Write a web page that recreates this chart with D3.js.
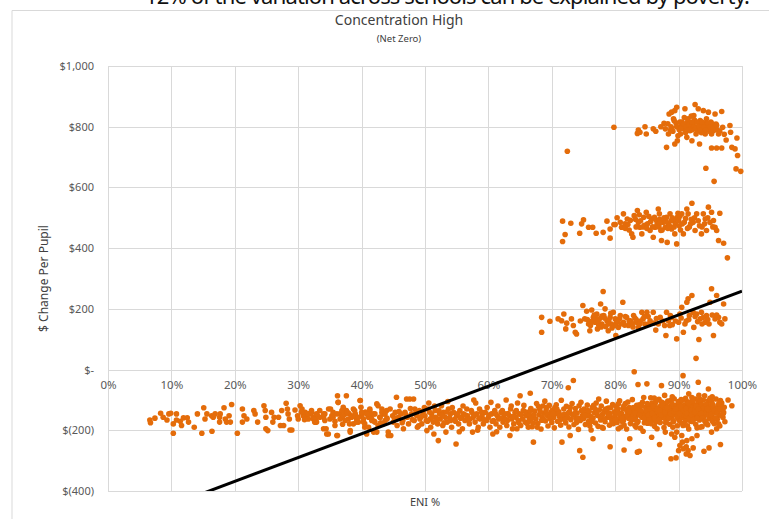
<!DOCTYPE html>
<html>
<head>
<meta charset="utf-8">
<script src="https://cdn.jsdelivr.net/npm/d3@7/dist/d3.min.js"></script>
<style>
  body { margin: 0; background: #fff; }
  text { font-family: "Noto Sans", sans-serif; }
</style>
</head>
<body>
<svg id="chart" width="769" height="519"></svg>
<script>
// axis ticks
const xTicks = [0, 10, 20, 30, 40, 50, 60, 70, 80, 90, 100];
const yTicks = [-400, -200, 0, 200, 400, 600, 800, 1000];

// [ENI %, $ change per pupil]
const lowBand = [
  [6.6,-166],[6.7,-175],[7.4,-160],[8.3,-144],[8.7,-157],[9.3,-166],[9.6,-146],[9.9,-144],[10.3,-179],[10.3,-210],
  [10.8,-146],[10.8,-166],[11.4,-170],[11.6,-184],[11.9,-159],[12.5,-159],[12.7,-173],[13.6,-190],[14.1,-146],[14.8,-210],
  [15.1,-126],[15.3,-163],[15.6,-146],[16.35,-152],[16.4,-203],[16.6,-157],[16.9,-146],[17.6,-157],[17.6,-173],[17.7,-146],
  [18.3,-126],[18.5,-163],[18.7,-173],[19.1,-152],[19.3,-173],[19.5,-115],[20.4,-210],[21.2,-130],[21.45,-152],[21.2,-173],
  [21.9,-163],[23.0,-135],[23.2,-146],[23.6,-173],[24.6,-119],[24.8,-135],[24.9,-157],[24.9,-195],[25.2,-201],[25.8,-141],
  [26.0,-173],[26.2,-157],[26.9,-157],[27.2,-184],[27.4,-135],[27.7,-184],[28.1,-111],[28.3,-130],[28.4,-146],[28.6,-163],
  [28.7,-199],[29.0,-199],[29.5,-133],[29.9,-152],[30.0,-163],[30.3,-119],[30.6,-130],[30.8,-152],[31.1,-141],[31.3,-155],
  [31.6,-163],[31.9,-146],[32.1,-141],[32.4,-157],[32.9,-173],
  [31.6,-146],[32.1,-135],[32.7,-173],[32.9,-157],[33.4,-135],[34.0,-157],[34.0,-195],[34.2,-146],[34.5,-212],[34.8,-130],
  [35.0,-163],[35.3,-152],[35.5,-141],[36.1,-217],[36.2,-86],[36.3,-108],[36.6,-146],[36.9,-157],[37.1,-124],[37.4,-146],
  [37.6,-135],[37.9,-163],[38.2,-201],[38.4,-152],[38.7,-179],[38.9,-135],[39.2,-163],[39.5,-173],[39.8,-102],[39.9,-124],
  [40.0,-152],[40.3,-173],[40.5,-190],[40.8,-212],[41.1,-157],[41.3,-135],[41.6,-168],[41.9,-206],[42.1,-146],[42.4,-113],
  [42.6,-184],[42.9,-157],[43.2,-130],[43.4,-146],[43.7,-168],[43.95,-135],[44.2,-217],
  [30.5,-140],[31.0,-165],[33.0,-150],[35.8,-170],[37.0,-180],[38.0,-145],[39.0,-155],[40.6,-140],[41.5,-150],[42.0,-170],
  [43.0,-175],[44.0,-160],
  [32.1,-141],[32.4,-163],[32.6,-173],[32.9,-146],[33.4,-157],[34.0,-146],[34.2,-168],[34.4,-195],[34.75,-212],[35.1,-130],
  [35.5,-157],[35.8,-184],[36.1,-146],[36.2,-217],[36.3,-108],[36.6,-163],[36.9,-135],[37.1,-152],[37.4,-168],[37.6,-86],
  [37.75,-141],[38.1,-179],[38.2,-206],[38.4,-157],[38.7,-130],[39.0,-146],[39.2,-173],[39.5,-157],[39.75,-102],[40.0,-141],
  [40.3,-163],[40.5,-179],[40.8,-146],[41.1,-190],[41.3,-130],[41.6,-163],[41.85,-146],[42.1,-173],[42.4,-206],[42.6,-119],
  [42.9,-157],[43.2,-141],[43.4,-179],[43.7,-146],[44.0,-163],[44.2,-206],[44.5,-130],[44.6,-217],[44.9,-152],[45.0,-173],
  [45.3,-141],[45.5,-91],[45.6,-184],[45.8,-157],[46.1,-119],[46.2,-146],[46.5,-168],[46.6,-195],[46.85,-141],[47.1,-97],
  [47.2,-157],[47.4,-179],[47.6,-97],[47.9,-146],[48.2,-97],[48.3,-168],[48.4,-130],[48.7,-152],[48.8,-190],[49.1,-135],
  [49.2,-163],[49.5,-179],[49.7,-141],[50.0,-152],[50.2,-168],[50.3,-201],[50.5,-130],[50.8,-163],[50.9,-190],[51.05,-146],
  [51.3,-173],[51.4,-212],[51.6,-135],[51.7,-157],[52.0,-179],[52.1,-234],[52.3,-146],[52.4,-163],[52.6,-119],[52.8,-184],
  [52.9,-141],[53.2,-157],[53.3,-206],[53.5,-173],[53.7,-130],[54.0,-146],[54.05,-168],[54.2,-190],[54.5,-141],[54.7,-163],
  [54.9,-245],[55.0,-152],[55.3,-179],[55.5,-135],[55.8,-157],[55.9,-195],[56.05,-146],[56.3,-168],[56.6,-130],[56.7,-152],
  [57.0,-179],[57.1,-163],[57.4,-141],[57.5,-206],[57.6,-157],[57.9,-173],[58.15,-146],[58.4,-190],[58.6,-130],[58.7,-163],
  [59.0,-152],[59.2,-179],[59.5,-141],[59.7,-168],[60.0,-157],[60.25,-190],[60.5,-146],[60.7,-212],[60.8,-168],[61.0,-135],
  [61.2,-179],[61.4,-152],[61.6,-163],[61.8,-190],[62.0,-141],[62.3,-173],[62.4,-157],[62.6,-146],[62.9,-184],[63.0,-168],
  [63.3,-152],[63.4,-217],[63.5,-130],[63.7,-163],[64.0,-179],[64.2,-141],[64.35,-157],[64.5,-195],[64.7,-168],[64.9,-146],
  [65.0,-86],[65.1,-184],[65.4,-163],[65.5,-135],[65.8,-173],[66.0,-152],[66.3,-190],[66.5,-163],
  [45.2,-160],[45.9,-138],[46.4,-175],[47.0,-150],[47.7,-128],[48.0,-165],[48.6,-142],[49.0,-185],[49.4,-155],[49.9,-125],
  [50.4,-170],[50.7,-140],[51.1,-158],[51.5,-120],[51.9,-165],[52.2,-135],[52.7,-150],[53.0,-175],[53.4,-140],[53.9,-160],
  [54.3,-125],[54.8,-170],[55.2,-145],[55.6,-160],[56.0,-120],[56.4,-150],[56.9,-165],[57.3,-135],[57.8,-150],[58.0,-110],
  [58.5,-160],[58.9,-140],[59.3,-165],[59.8,-125],[60.1,-150],[60.6,-170],[61.1,-145],[61.5,-120],[61.9,-160],[62.2,-135],
  [62.7,-165],[63.1,-145],[63.6,-120],[63.9,-155],[64.4,-135],[64.8,-175],[65.2,-150],[65.6,-118],[65.9,-140],[66.1,-178],
  [55.4,-205],[58.3,-200],[61.3,-205],[63.8,-195],[50.6,-110],[53.6,-105],[57.7,-100],[60.4,-108],[62.8,-100],[64.6,-110],
  [66.2,-142],[66.4,-171],[66.7,-128],[66.9,-188],[67.0,-155],[67.3,-137],[67.5,-163],[67.6,-112],[67.8,-178],[68.0,-149],
  [68.1,-131],[68.3,-196],[68.5,-158],[68.6,-120],[68.8,-144],[69.0,-169],[69.1,-135],[69.3,-152],[69.4,-186],[69.6,-118],
  [69.7,-161],[69.9,-140],[66.5,-150],[67.1,-176],[67.9,-122],[68.4,-167],[68.9,-104],[69.5,-147],[70.0,-174],[66.8,-160],
  [70.1,-133],[70.3,-158],[70.4,-192],[70.6,-145],[70.7,-116],[70.9,-170],[71.1,-139],[71.2,-154],[71.4,-183],[71.5,-101],
  [71.7,-162],[71.9,-130],[72.0,-147],[72.2,-176],[72.3,-121],[72.5,-157],[72.7,-189],[72.8,-138],[73.0,-165],[73.2,-112],
  [73.3,-150],[73.5,-181],[73.7,-128],[73.8,-160],[74.0,-143],[74.2,-197],[74.3,-119],[74.5,-168],[74.7,-135],[74.8,-153],
  [70.5,-125],[71.3,-166],[72.6,-143],[73.9,-174],[74.6,-108],
  [75.0,-162],[75.1,-130],[75.3,-181],[75.4,-146],[75.6,-117],[75.8,-170],[75.9,-138],[76.1,-155],[76.2,-199],[76.4,-124],
  [76.5,-160],[76.7,-142],[76.9,-176],[77.0,-110],[77.2,-151],[77.3,-187],[77.5,-133],[77.7,-166],[77.8,-120],[78.0,-148],
  [78.1,-193],[78.3,-137],[78.4,-172],[78.6,-104],[78.8,-157],[78.9,-127],[79.1,-183],[79.2,-145],[79.4,-161],[79.6,-115],
  [79.7,-178],[79.9,-139],[75.5,-153],[76.0,-186],[76.8,-129],[77.4,-97],[78.2,-162],[78.7,-141],[79.3,-126],[79.8,-158],
  [80.0,-150],[80.1,-121],[80.3,-174],[80.4,-136],[80.6,-162],[80.7,-103],[80.9,-189],[81.0,-144],[81.2,-128],[81.3,-168],
  [81.5,-155],[81.6,-112],[81.8,-196],[81.9,-139],[82.1,-160],[82.2,-125],[82.4,-178],[82.5,-147],[82.7,-99],[82.8,-165],
  [83.0,-133],[83.1,-184],[83.3,-151],[83.4,-118],[83.6,-171],[83.7,-142],[83.9,-129],[84.0,-193],[84.2,-157],[84.3,-108],
  [84.5,-146],[84.6,-175],[84.8,-124],[84.9,-162],[80.2,-140],[80.8,-158],[81.4,-183],[82.0,-107],[82.6,-137],[83.2,-161],
  [83.8,-116],[84.4,-203],[81.1,-171],[82.3,-150],[83.5,-133],[84.7,-145],[80.5,-113],[81.7,-131],[82.9,-149],[84.1,-137],
  [85.0,-141],[85.1,-177],[85.3,-119],[85.4,-156],[85.6,-93],[85.7,-168],[85.9,-134],[86.0,-152],[86.2,-187],[86.3,-112],
  [86.5,-145],[86.6,-163],[86.8,-126],[86.9,-98],[87.1,-174],[87.2,-139],[87.4,-157],[87.5,-115],[87.7,-191],[87.8,-148],
  [88.0,-130],[88.1,-166],[88.3,-104],[88.4,-143],[88.6,-180],[88.7,-122],[88.9,-155],[89.0,-136],[89.2,-172],[89.3,-96],
  [89.5,-147],[89.6,-118],[89.8,-185],[89.9,-160],[85.2,-131],[85.5,-146],[85.8,-110],[86.1,-129],[86.4,-173],[86.7,-140],
  [87.0,-151],[87.3,-107],[87.6,-135],[87.9,-162],[88.2,-147],[88.5,-124],[88.8,-101],[89.1,-150],[89.4,-128],[89.7,-141],
  [85.35,-163],[86.15,-94],[86.85,-156],[87.45,-127],[88.05,-111],[88.65,-138],[89.25,-119],[89.85,-133],[87.15,-120],[88.35,-157],
  [90.0,-126],[90.1,-168],[90.3,-143],[90.4,-99],[90.6,-157],[90.7,-184],[90.9,-118],[91.0,-137],[91.2,-162],[91.3,-105],
  [91.5,-149],[91.6,-196],[91.8,-129],[91.9,-170],[92.1,-92],[92.2,-144],[92.4,-158],[92.5,-116],[92.7,-180],[92.8,-133],
  [93.0,-151],[93.1,-108],[93.3,-166],[93.4,-124],[93.6,-140],[93.7,-188],[93.9,-100],[94.0,-155],[94.2,-131],[94.3,-173],
  [94.5,-113],[94.6,-146],[94.8,-162],[94.9,-121],[90.2,-111],[90.5,-131],[90.8,-150],[91.1,-95],[91.4,-123],[91.7,-139],
  [92.0,-114],[92.3,-127],[92.6,-97],[92.9,-145],[93.2,-138],[93.5,-110],[93.8,-129],[94.1,-86],[94.4,-139],[94.7,-103],
  [90.45,-176],[91.25,-152],[91.85,-107],[92.45,-134],[93.05,-122],[93.65,-117],[94.25,-148],[94.85,-137],[92.15,-171],[93.45,-156],
  [95.0,-138],[95.2,-105],[95.3,-157],[95.5,-126],[95.6,-178],[95.8,-143],[95.9,-97],[96.1,-164],[96.2,-119],[96.4,-150],
  [96.5,-186],[96.7,-132],[96.8,-110],[97.0,-158],[97.1,-141],[97.3,-172],[95.4,-115],[96.0,-131],[96.6,-102],[97.2,-124],
  [66.6,-135],[67.2,-150],[67.7,-190],[68.2,-140],[68.7,-165],[69.2,-125],[69.8,-155],[70.2,-145],[70.8,-130],[71.6,-150],
  [72.1,-165],[72.9,-125],[73.6,-145],[74.1,-160],[74.9,-140],[75.2,-150],[75.7,-135],[76.3,-170],[76.6,-118],[77.1,-140],
  [77.6,-155],[78.5,-130],[79.0,-150],[79.5,-170],[80.05,-165],[80.35,-128],[80.65,-145],[81.05,-160],[81.35,-120],[81.85,-152],
  [82.15,-138],[82.45,-162],[82.85,-125],[83.15,-142],[83.45,-175],[83.85,-150],[84.15,-118],[84.55,-160],[84.85,-135],[85.05,-112],
  [85.25,-150],[85.45,-130],[85.65,-178],[85.85,-145],[86.05,-120],[86.25,-160],[86.45,-105],[86.65,-128],[86.95,-165],[87.05,-135],
  [87.25,-150],[87.55,-110],[87.85,-140],[87.95,-175],[88.15,-125],[88.45,-160],[88.75,-145],[88.95,-112],[89.15,-168],[89.35,-140],
  [89.55,-130],[89.75,-155],[89.95,-105],[90.15,-145],[90.35,-122],[90.55,-102],[90.85,-135],[91.05,-170],[91.15,-128],[91.35,-145],
  [91.55,-110],[91.75,-160],[91.95,-135],[92.05,-150],[92.25,-103],[92.35,-165],[92.55,-140],[92.75,-120],[92.95,-160],[93.15,-130],
  [93.35,-98],[93.55,-145],[93.75,-160],[93.95,-125],[94.15,-170],[94.35,-115],[94.55,-128],[94.75,-150],[94.95,-95],[95.1,-148],
  [95.35,-170],[95.65,-135],[95.85,-160],[96.15,-142],[96.35,-112],[96.75,-150],[96.9,-125],[97.05,-145],[91.4,-185],[92.9,-192],
  [94.6,-182],[89.1,-190],[86.6,-195],[83.3,-190],[80.5,-195],[77.9,-190],[93.2,-85],[91.6,-80],[89.0,-90],[87.8,-85],
  [95.3,-90],[84.5,-92],
  [83.0,-7],[90.7,-20],[73.4,-36],[72.6,-60],[93.1,-42],[83.6,-49],[85.0,-47],[87.3,-53],[66.6,-78],[94.7,-64],
  [97.8,-100],[98.4,-119],[67.1,-239],[71.6,-239],[74.4,-267],[74.9,-289],[79.2,-254],[81.4,-265],[83.5,-272],[83.8,-269],
  [87.0,-247],[88.8,-294],[89.6,-291],[90.0,-267],[90.2,-250],[90.75,-261],[91.2,-254],[91.5,-267],[92.3,-258],[91.8,-283],
  [94.0,-269],[94.8,-258],[96.6,-247],[91.2,-278],[90.6,-239],[88.9,-212],[89.4,-223],[89.7,-206],[90.5,-217],[91.3,-234],
  [92.1,-228],[92.9,-217],[95.2,-206],[96.0,-195],[96.3,-179],[96.5,-130],[94.4,-179],[93.4,-190],[76.5,-228],[72.9,-217],
  [82.3,-228],[85.75,-223],[87.9,-206]
];

const band200 = [
  [68.4,172],[68.4,123],[69.7,159],[71.0,167],[71.55,161],[71.9,183],[72.35,153],[72.2,134],[73.1,167],[73.4,145],
  [73.7,123],[73.9,117],[74.9,211],[75.2,167],[75.5,192],[75.8,150],[76.0,128],[76.3,196],[76.55,172],[76.8,156],
  [77.1,183],[77.2,134],[77.5,167],[77.7,216],[77.9,150],[78.1,257],[78.2,178],[78.4,200],[78.7,161],[78.9,128],
  [79.2,172],[79.4,150],[79.7,189],[80.0,167],[80.1,112],[80.5,139],[80.8,178],[81.2,222],[81.3,156],[81.8,172],
  [82.1,145],[82.4,161],[82.9,178],[83.4,156],[83.65,139],[84.2,189],[84.4,167],[84.7,150],[85.0,189],[85.5,161],
  [86.0,189],[86.4,130],[86.8,150],[87.1,172],[88.0,112],[88.1,189],[88.4,161],[88.6,145],[88.9,172],[89.7,101],
  [90.0,156],[90.2,183],[90.5,205],[90.75,123],[91.0,150],[91.3,222],[91.5,233],[91.7,178],[92.1,244],[92.3,189],
  [92.4,139],[92.85,183],[93.2,99],[93.4,167],[93.6,189],[93.9,172],[94.2,156],[94.4,178],[94.95,222],[95.2,266],
  [95.5,112],[95.75,167],[96.0,244],[96.3,172],[96.5,156],[97.1,216],[97.3,167],[92.75,37],
  [76.2,158],[76.9,170],[77.4,148],[77.9,176],[78.5,142],[79.0,163],[79.5,137],[80.2,155],[80.7,168],[81.5,146],
  [82.7,152],[83.1,170],[84.0,160],[85.2,175],[86.1,153],[87.5,160],[89.0,148],[91.6,165],[93.0,158],[94.8,150],[96.0,180],
  [75.6,165],[76.1,145],[76.7,180],[77.3,160],[77.8,140],[78.3,170],[78.9,150],[79.3,185],[79.9,145],[80.4,160],
  [80.9,150],[81.6,175],[82.2,160],[82.8,140],[83.3,165],[83.9,150],[84.6,175],[85.3,150],[86.5,168],[87.8,145],
  [88.7,178],[89.5,160],[90.4,170],[91.2,160],[92.6,175],[93.7,150],[94.6,165],[95.3,180],[96.8,150],[74.5,160]
];

const band400 = [
  [71.7,489],[73.0,482],[72.1,445],[71.7,422],[74.4,449],[74.7,480],[75.0,493],[75.8,469],[76.45,469],[77.0,449],
  [78.1,452],[78.7,489],[79.2,463],[79.2,433],[79.8,478],[80.3,500],[80.8,485],[81.0,469],[81.3,513],[81.55,480],
  [81.9,496],[82.2,460],[82.6,447],[82.8,436],[83.0,507],[83.5,524],[83.65,485],[83.9,469],[84.2,447],[84.5,502],
  [84.9,518],[85.1,480],[85.5,458],[85.75,496],[86.0,436],[86.3,469],[86.5,491],[86.8,529],[86.97,513],[87.2,458],
  [87.3,425],[87.6,485],[87.9,469],[88.1,502],[88.2,419],[88.4,480],[88.65,513],[88.9,463],[89.2,491],[89.4,447],
  [89.7,414],[89.8,502],[90.1,474],[90.5,513],[90.75,447],[91.3,529],[91.5,513],[92.1,548],[92.3,485],[92.6,458],
  [92.85,513],[93.3,474],[93.6,447],[93.9,513],[94.2,496],[94.4,458],[94.7,535],[94.95,485],[95.2,518],[95.5,491],
  [95.75,469],[96.0,458],[96.3,425],[96.5,515],[97.1,416],[97.7,368],
  [84.0,490],[84.6,475],[85.3,505],[85.9,470],[86.6,478],[87.0,495],[87.4,460],[88.0,488],[88.6,472],[89.0,500],
  [89.5,480],[90.0,492],[90.3,460],[90.9,485],[91.7,470],[92.0,495],[80.0,478],[81.6,465],[82.4,492],[83.3,470],
  [83.2,495],[83.8,510],[84.4,470],[85.6,488],[86.2,502],[86.9,470],[87.7,500],[88.3,465],[88.8,490],[89.3,470],
  [89.9,515],[90.6,480],[91.1,498],[91.9,480],[92.5,500],[93.1,490],[93.7,470],[94.1,480],[94.6,500],[95.4,470],
  [85.0,465],[87.0,482],[90.2,505],[91.4,465],[82.0,478]
];

const band800 = [
  [72.45,719],[79.8,798],[83.65,789],[83.5,778],[83.9,782],[84.7,800],[84.9,776],[86.0,793],[86.4,785],[87.7,811],
  [87.9,793],[88.1,732],[88.4,776],[88.5,842],[88.9,848],[89.2,826],[89.4,853],[89.7,864],[89.4,743],[89.8,754],
  [90.0,798],[90.3,776],[90.5,815],[90.75,793],[91.0,859],[91.3,765],[91.5,826],[91.8,787],[92.1,754],[92.3,809],
  [92.6,873],[92.4,837],[92.75,776],[92.95,798],[93.1,859],[93.3,743],[93.4,820],[93.65,787],[93.9,853],[93.9,804],
  [94.2,776],[94.4,826],[94.7,848],[94.85,793],[95.1,815],[95.2,776],[95.5,787],[95.75,842],[95.9,809],[96.3,776],
  [96.8,850],[96.95,798],[95.2,730],[96.0,730],[96.8,730],[97.5,756],[98.1,804],[98.2,782],[98.4,732],[98.9,727],
  [99.2,763],[99.3,705],[94.3,663],[95.6,620],[99.06,661],[99.8,653],
  [88.8,800],[89.1,785],[89.6,812],[90.1,790],[90.6,805],[91.1,780],[91.4,815],[91.9,798],[92.2,790],[92.5,822],
  [93.0,786],[93.5,808],[93.8,795],[94.1,812],[94.5,800],[94.9,785],[95.3,810],[95.8,795],[96.1,790],[97.2,775],
  [90.9,830],[92.0,835],[93.6,780],[89.9,770],[88.7,788],
  [88.3,810],[88.9,795],[89.3,820],[89.7,800],[90.2,815],[90.4,795],[90.8,810],[91.2,800],[91.6,790],[91.7,808],
  [92.1,815],[92.4,800],[92.7,795],[92.9,815],[93.2,802],[93.4,790],[93.7,815],[94.0,800],[94.3,790],[94.6,812],
  [95.0,800],[95.4,795],[96.0,805],[96.5,785],[87.2,800]
];

// linear trendline endpoints (Excel fit), clipped to the plot
const trendEni = [6.5, 100];
const trendValue = [-474, 258];

const svg = d3.select("#chart");
const orange = "#E46C0A";
const grid = "#d9d9d9";
const axisText = "#595959";

const x = d3.scaleLinear().domain([0, 100]).range([108, 742]);
const y = d3.scaleLinear().domain([-400, 1000]).range([491, 66]);

// slide heading, cut off at the top of the picture
svg.append("text")
  .attr("x", 145).attr("y", 4)
  .attr("textLength", 605)
  .attr("font-size", 22)
  .attr("fill", "#111")
  .text("12% of the variation across schools can be explained by poverty.");

// chart frame
svg.append("path")
  .attr("d", "M12,530 L12,10.5 L780,10.5")
  .attr("fill", "none")
  .attr("stroke", grid);

svg.append("text")
  .attr("x", 399).attr("y", 25)
  .attr("text-anchor", "middle")
  .attr("font-size", 14)
  .attr("fill", "#404040")
  .text("Concentration High");

svg.append("text")
  .attr("x", 399).attr("y", 42)
  .attr("text-anchor", "middle")
  .attr("font-size", 9.5)
  .attr("fill", "#404040")
  .text("(Net Zero)");

// gridlines
svg.append("g").selectAll("line")
  .data(yTicks)
  .enter().append("line")
  .attr("x1", x(0)).attr("x2", x(100))
  .attr("y1", d => Math.round(y(d)) + 0.5)
  .attr("y2", d => Math.round(y(d)) + 0.5)
  .attr("stroke", grid);

svg.append("g").selectAll("line")
  .data(xTicks)
  .enter().append("line")
  .attr("y1", y(1000)).attr("y2", y(-400))
  .attr("x1", d => Math.round(x(d)) + 0.5)
  .attr("x2", d => Math.round(x(d)) + 0.5)
  .attr("stroke", grid);

// axes
const money = v => v === 0 ? "$-" : v < 0 ? "$(" + d3.format(",")(-v) + ")" : "$" + d3.format(",")(v);

const yAxis = svg.append("g")
  .attr("transform", `translate(${x(0)},0)`)
  .call(d3.axisLeft(y).tickValues(yTicks).tickFormat(money).tickSize(0).tickPadding(14));
yAxis.select(".domain").remove();
yAxis.selectAll("text")
  .attr("font-family", "Noto Sans, sans-serif")
  .attr("font-size", 11)
  .attr("fill", axisText);

const xAxis = svg.append("g")
  .attr("transform", `translate(0,${y(0)})`)
  .call(d3.axisBottom(x).tickValues(xTicks).tickFormat(d => d + "%").tickSize(0).tickPadding(11));
xAxis.select(".domain").remove();
xAxis.selectAll("text")
  .attr("font-family", "Noto Sans, sans-serif")
  .attr("font-size", 11.5)
  .attr("fill", axisText);

svg.append("text")
  .attr("transform", `translate(48,${(y(1000) + y(-400)) / 2}) rotate(-90)`)
  .attr("text-anchor", "middle")
  .attr("font-size", 12)
  .attr("fill", "#404040")
  .text("$ Change Per Pupil");

svg.append("text")
  .attr("x", 425).attr("y", 506)
  .attr("text-anchor", "middle")
  .attr("font-size", 11)
  .attr("fill", "#404040")
  .text("ENI %");

// points
const points = lowBand.concat(band200, band400, band800);
svg.append("g").selectAll("circle")
  .data(points)
  .enter().append("circle")
  .attr("cx", d => x(d[0]))
  .attr("cy", d => y(d[1]))
  .attr("r", 2.8)
  .attr("fill", orange);

// trendline
svg.append("clipPath").attr("id", "plotClip")
  .append("rect")
  .attr("x", x(0)).attr("y", y(1000))
  .attr("width", x(100) - x(0)).attr("height", y(-400) - y(1000));

const trend = trendEni.map((e, i) => [e, trendValue[i]]);
svg.append("path")
  .datum(trend)
  .attr("clip-path", "url(#plotClip)")
  .attr("fill", "none")
  .attr("stroke", "#000")
  .attr("stroke-width", 3)
  .attr("d", d3.line().x(d => x(d[0])).y(d => y(d[1])));
</script>
</body>
</html>
